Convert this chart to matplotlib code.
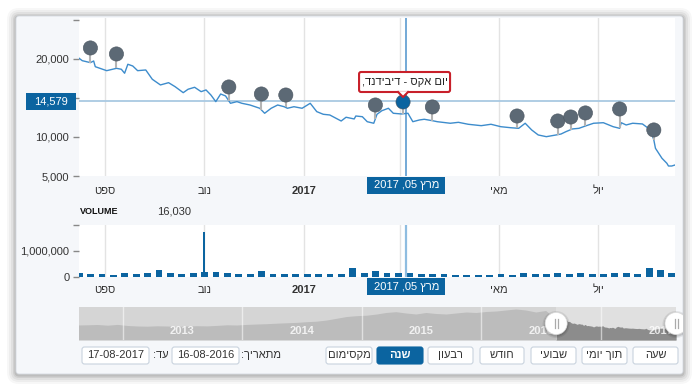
import re
import numpy as np
import pandas as pd
import matplotlib
matplotlib.use('Agg')
import matplotlib.pyplot as plt
import matplotlib.dates as mdates
from matplotlib.patches import FancyBboxPatch, Rectangle, Polygon, Circle

plt.rcParams['font.family'] = ['Liberation Sans', 'DejaVu Sans']

# ---- data ----
price_dates = ['2016-08-16', '2016-08-18', '2016-08-23', '2016-08-25', '2016-08-26', '2016-09-02',
               '2016-09-08', '2016-09-11', '2016-09-13', '2016-09-15', '2016-09-18', '2016-09-21',
               '2016-09-26', '2016-09-30', '2016-10-05', '2016-10-10', '2016-10-14', '2016-10-19',
               '2016-10-22', '2016-10-26', '2016-10-30', '2016-11-02', '2016-11-05', '2016-11-08',
               '2016-11-11', '2016-11-14', '2016-11-17', '2016-11-21', '2016-11-24', '2016-11-29',
               '2016-12-05', '2016-12-08', '2016-12-12', '2016-12-16', '2016-12-20', '2016-12-22',
               '2016-12-26', '2016-12-31', '2017-01-05', '2017-01-09', '2017-01-13', '2017-01-17',
               '2017-01-24', '2017-01-27', '2017-02-01', '2017-02-02', '2017-02-06', '2017-02-09',
               '2017-02-13', '2017-02-15', '2017-02-18', '2017-02-22', '2017-02-25', '2017-03-02',
               '2017-03-06', '2017-03-09', '2017-03-13', '2017-03-16', '2017-03-21', '2017-03-24',
               '2017-04-01', '2017-04-06', '2017-04-12', '2017-04-20', '2017-04-26', '2017-05-02',
               '2017-05-08', '2017-05-13', '2017-05-17', '2017-05-21', '2017-05-25', '2017-05-30',
               '2017-06-05', '2017-06-08', '2017-06-11', '2017-06-15', '2017-06-19', '2017-06-23',
               '2017-06-28', '2017-07-04', '2017-07-10', '2017-07-14', '2017-07-15', '2017-07-18',
               '2017-07-22', '2017-07-28', '2017-08-02', '2017-08-04', '2017-08-05', '2017-08-09',
               '2017-08-12', '2017-08-13', '2017-08-15', '2017-08-17']
price_vals = [20100, 19780, 19530, 19740, 19010, 18500,
              18800, 18680, 18170, 19320, 19100, 18500,
              18590, 17400, 16670, 16960, 16450, 15680,
              16120, 16370, 15810, 16030, 15380, 14530,
              15510, 15260, 14320, 14530, 14320, 14100,
              13680, 13040, 13680, 14100, 13880, 13680,
              13880, 13680, 14320, 13250, 12910, 12820,
              12050, 12530, 12310, 12690, 12600, 11960,
              11760, 12910, 13370, 13680, 13040, 12950,
              13040, 11960, 12180, 12270, 12090, 11960,
              11760, 11880, 11630, 11450, 11630, 11320,
              11190, 11110, 11760, 10900, 10260, 10040,
              10260, 10380, 10680, 11030, 11110, 11410,
              11760, 11830, 11320, 11110, 11830, 11540,
              11760, 11670, 10900, 9620, 8550, 7270,
              6630, 6280, 6280, 6410]

flag_dates = ['2016-08-23', '2016-09-08', '2016-11-16', '2016-12-06', '2016-12-21', '2017-02-14',
              '2017-03-03', '2017-03-21', '2017-05-12', '2017-06-06', '2017-06-14', '2017-06-23',
              '2017-07-14', '2017-08-04']
flag_vals = [21410, 20640, 16410, 15510, 15380, 14100,
             14490, 13850, 12690, 12050, 12560, 13080,
             13590, 10900]
flag_active = 6

# weekly volume blocks (Sunday starts) and the single spike day
vol_week_start = '2016-08-14'
vol_weekly = [150e3, 100e3, 120e3, 90e3, 170e3, 120e3, 170e3, 280e3, 170e3, 130e3,
              170e3, 200e3, 200e3, 170e3, 120e3, 120e3, 230e3, 110e3, 100e3, 100e3,
              100e3, 100e3, 110e3, 100e3, 330e3, 170e3, 220e3, 170e3, 170e3, 150e3,
              130e3, 130e3, 100e3, 80e3, 60e3, 70e3, 80e3, 100e3, 90e3, 170e3,
              100e3, 130e3, 170e3, 120e3, 170e3, 130e3, 100e3, 170e3, 150e3, 130e3,
              340e3, 260e3, 160e3]
spike_dates = ['2016-11-01']
spike_vals = [1750e3]

nav_dates = ['2012-08-15', '2012-09-15', '2012-10-15', '2012-11-15', '2012-12-15',
             '2013-01-15', '2013-02-15', '2013-03-15', '2013-04-15', '2013-05-15', '2013-06-15',
             '2013-07-15', '2013-08-15', '2013-09-15', '2013-10-15', '2013-11-15', '2013-12-15',
             '2014-01-15', '2014-02-15', '2014-03-15', '2014-04-15', '2014-05-15', '2014-06-15',
             '2014-07-15', '2014-08-15', '2014-09-15', '2014-10-15', '2014-11-15', '2014-12-15',
             '2015-01-15', '2015-02-15', '2015-03-15', '2015-04-15', '2015-05-15', '2015-06-15',
             '2015-07-15', '2015-08-15', '2015-09-15', '2015-10-15', '2015-11-15', '2015-12-15',
             '2016-01-15', '2016-02-15', '2016-03-15', '2016-04-15', '2016-05-15', '2016-06-15',
             '2016-07-15', '2016-08-05']
nav_vals = [15000, 15200, 15500, 14800, 15600,
            14500, 14000, 13800, 14200, 14000, 13600,
            14000, 14300, 14100, 14600, 15200, 15000,
            15600, 16000, 16300, 16800, 17200, 17600,
            18300, 18800, 20000, 21700, 23500, 24300,
            24800, 26000, 27500, 28300, 27000, 26000,
            27500, 26500, 26000, 27000, 28000, 27500,
            28500, 29000, 30000, 31000, 30000, 28000,
            29500, 24000]

grid_dates = ['2016-09-01', '2016-11-01', '2017-01-01', '2017-03-01', '2017-05-01', '2017-07-01']
# the March label sits under the crosshair date box, so it shows blank
grid_labels = ['ספט', 'נוב', '2017', '', 'מאי', 'יול']
nav_years = [2013, 2014, 2015, 2016, 2017]

cross_date = '2017-03-05'
cross_value = 14579
cross_date_label = 'מרץ 05, 2017'
tooltip_text = 'יום אקס - דיבידנד,'
volume_value = '16,030'
date_from = '16-08-2016'
date_to = '17-08-2017'
buttons = ['שעה', 'תוך יומי', 'שבועי', 'חודש', 'רבעון', 'שנה', 'מקסימום']
active_button = 'שנה'

x_start, x_end = '2016-08-16', '2017-08-17'
nav_start, nav_end = '2012-08-20', '2017-08-17'


def vis(s):
    # matplotlib has no bidi: flip Hebrew for display, keep digit runs readable
    r = s[::-1]
    return re.sub(r'[0-9A-Za-z]+', lambda m: m.group(0)[::-1], r)


W, H = 700, 391
BLUE = '#0b64a0'
TXT = '#333333'


def box(x0, y0, x1, y1):
    return [x0 / W, 1 - y1 / H, (x1 - x0) / W, (y1 - y0) / H]


def todate(lst):
    return pd.to_datetime(lst)


fig = plt.figure(figsize=(7, 3.91), dpi=100)
fig.patch.set_facecolor('white')

# card with soft shadow
bg = fig.add_axes([0, 0, 1, 1], zorder=-10)
bg.set_xlim(0, W)
bg.set_ylim(H, 0)
bg.axis('off')
for g, a in [(9, 0.03), (7, 0.04), (5, 0.05), (3, 0.07), (1.5, 0.09)]:
    bg.add_patch(FancyBboxPatch((16 - g, 16 - g + 1), 667 + 2 * g, 358 + 2 * g,
                                boxstyle=f"round,pad=0,rounding_size={3 + g}",
                                fc='black', ec='none', alpha=a))
bg.add_patch(FancyBboxPatch((16, 16), 667, 358, boxstyle="round,pad=0,rounding_size=3",
                            fc='#f5f7fa', ec='#d5dae0', lw=0.6))

pdates = todate(price_dates)
fdates = todate(flag_dates)
gdates = todate(grid_dates)
xlim = (todate([x_start])[0], todate([x_end])[0])

# ---- main price panel ----
ax = fig.add_axes(box(79, 18, 675, 176))
ax.set_facecolor('white')
ax.plot(pdates, price_vals, color='#3d8ccc', lw=1.0, zorder=3)
ax.set_xlim(*xlim)
ax.set_ylim(5000, 25250)
ax.set_yticks([5000, 10000, 15000, 20000, 25000])
ax.set_yticklabels(['5,000', '10,000', '', '20,000', ''])
ax.set_xticks(gdates)
ax.set_xticklabels([vis(s) for s in grid_labels])
ax.grid(axis='x', color='#e3e3e3', lw=1)
ax.tick_params(axis='x', length=0, pad=7, labelsize=8, labelcolor=TXT)
ax.tick_params(axis='y', length=4, width=1, color='#888888', pad=3, labelsize=8, labelcolor=TXT)
for lbl in ax.get_xticklabels():
    if lbl.get_text() == '2017':
        lbl.set_fontweight('bold')
for sp in ax.spines.values():
    sp.set_visible(False)

cross_x = mdates.date2num(todate([cross_date])[0])
ax.axhline(cross_value, color='#a9c9e2', lw=1.3, zorder=2)
ax.axvline(cross_x, color='#5b9bd0', lw=1.2, zorder=2)

fnum = mdates.date2num(fdates)
pnum = mdates.date2num(pdates)
stem_base = np.interp(fnum, pnum, price_vals)
ax.vlines(fdates, stem_base, flag_vals, color='#b4b4b4', lw=1.5, zorder=4)
fcol = ['#5c6975'] * len(flag_vals)
fcol[flag_active] = BLUE
ax.scatter(fdates, flag_vals, s=105, c=fcol, edgecolors='#4a5560', linewidths=0.4, zorder=5)

# ---- volume panel ----
vax = fig.add_axes(box(79, 225, 675, 277))
vax.set_facecolor('white')
wk = pd.date_range(vol_week_start, periods=len(vol_weekly), freq='7D')
vax.bar(wk, vol_weekly, width=4.2, align='edge', color=BLUE, zorder=3)
vax.bar(todate(spike_dates), spike_vals, width=1.2, color=BLUE, zorder=3)
vax.set_xlim(*xlim)
vax.set_ylim(0, 2000000)
vax.set_yticks([0, 1000000, 2000000])
vax.set_yticklabels(['0', '1,000,000', ''])
vax.set_xticks(gdates)
vax.set_xticklabels([vis(s) for s in grid_labels])
vax.grid(axis='x', color='#e3e3e3', lw=1)
vax.tick_params(axis='x', length=0, pad=6, labelsize=8, labelcolor=TXT)
vax.tick_params(axis='y', length=4, width=1, color='#888888', pad=3, labelsize=8, labelcolor=TXT)
for lbl in vax.get_xticklabels():
    if lbl.get_text() == '2017':
        lbl.set_fontweight('bold')
for sp in vax.spines.values():
    sp.set_visible(False)
vax.axvline(cross_x, color='#8fbde0', lw=1.6, zorder=4)

# ---- navigator ----
nav = fig.add_axes(box(79, 307, 676, 340))
nlim = (todate([nav_start])[0], todate([nav_end])[0])
nd = list(todate(nav_dates)) + list(pdates)
nv = list(nav_vals) + list(price_vals)
nav.set_facecolor('#d5d5d5')
nav.fill_between(nd, 0, nv, color='#bcbcbc', lw=0, zorder=1)
nav.axvspan(xlim[0], xlim[1], color='#e0e0e0', lw=0, zorder=1.5)
nav.fill_between(pdates, 0, price_vals, color='#8c8c8c', lw=0, zorder=2)
for yr in nav_years:
    d0 = pd.Timestamp(f'{yr}-01-01')
    nav.axvline(d0, color='white', lw=1, alpha=0.55, zorder=3)
    nav.text(d0 + pd.Timedelta(days=182), 3500, str(yr), ha='center', va='bottom',
             color='white', alpha=0.8, fontsize=8, fontweight='bold', zorder=4, clip_on=True)
nav.set_xlim(*nlim)
nav.set_ylim(0, 33000)
nav.set_xticks([])
nav.set_yticks([])
for sp in nav.spines.values():
    sp.set_visible(False)

# ---- overlay (pixel coords) ----
ov = fig.add_axes([0, 0, 1, 1], zorder=20)
ov.set_xlim(0, W)
ov.set_ylim(H, 0)
ov.axis('off')


def to_px(a, x, y):
    dx, dy = a.transData.transform((x, y))
    return dx, H - dy


# horizontal crosshair label
_, hy = to_px(ax, cross_x, cross_value)
ov.add_patch(Rectangle((26, hy - 8.5), 50, 17, fc=BLUE, ec='none'))
ov.text(51, hy, f'{cross_value:,}', color='white', fontsize=8, ha='center', va='center')

# vertical crosshair labels
cx, _ = to_px(ax, cross_x, 5000)
for top in (177, 278):
    ov.add_patch(Rectangle((cx - 39, top), 78, 17, fc=BLUE, ec='none'))
    ov.text(cx, top + 8.5, vis(cross_date_label), color='white', fontsize=8, ha='center', va='center')

# tooltip over the active flag
fx, fy = to_px(ax, fnum[flag_active], flag_vals[flag_active])
tb_l, tb_r, tb_t, tb_b = fx - 44, fx + 47, 72, 92
ov.add_patch(FancyBboxPatch((tb_l, tb_t), tb_r - tb_l, tb_b - tb_t,
                            boxstyle="round,pad=0,rounding_size=2",
                            fc='white', ec='#c8202a', lw=1.5))
ov.add_patch(Polygon([(fx - 5, tb_b - 0.8), (fx + 5, tb_b - 0.8), (fx, tb_b + 5)],
                     closed=True, fc='white', ec='none'))
ov.plot([fx - 5, fx, fx + 5], [tb_b, tb_b + 5, tb_b], color='#c8202a', lw=1.5)
ov.text((tb_l + tb_r) / 2, (tb_t + tb_b) / 2, vis(tooltip_text), fontsize=8, color='#222222',
        ha='center', va='center')

# volume header
ov.text(80, 211, 'VOLUME', fontsize=6.5, fontweight='bold', color='#111111', va='center')
ov.text(157, 211, volume_value, fontsize=8, color=TXT, va='center')

# navigator handles
clip = Rectangle((16, 16), 667, 358, transform=ov.transData)
for d in xlim:
    hx, _ = to_px(nav, mdates.date2num(d), 0)
    for g, a in [(2.5, 0.08), (1.2, 0.12)]:
        c = Circle((hx, 324.5), 11 + g, fc='black', alpha=a, ec='none')
        ov.add_patch(c)
        c.set_clip_path(clip)
    c = Circle((hx, 323.5), 11, fc='white', ec='#dddddd', lw=0.5)
    ov.add_patch(c)
    c.set_clip_path(clip)
    for off in (-1.5, 1.5):
        ln, = ov.plot([hx + off, hx + off], [319, 328], color='#aaaaaa', lw=0.9)
        ln.set_clip_path(clip)

# range buttons
btn_x = [633, 582, 531, 480, 428, 377, 326]
btn_w = [45, 45, 45, 44, 45, 46, 46]
for lbl, x0, w in zip(buttons, btn_x, btn_w):
    act = lbl == active_button
    ov.add_patch(FancyBboxPatch((x0, 347), w, 17, boxstyle="round,pad=0,rounding_size=2.5",
                                fc=BLUE if act else 'white', ec=BLUE if act else '#c9d3de', lw=0.8))
    ov.text(x0 + w / 2, 355.5, vis(lbl), fontsize=8, ha='center', va='center',
            color='white' if act else TXT, fontweight='bold' if act else 'normal')

# date inputs
for x0, txt in [(82, date_to), (172, date_from)]:
    ov.add_patch(FancyBboxPatch((x0, 347), 67, 17, boxstyle="round,pad=0,rounding_size=2.5",
                                fc='white', ec='#c9d3de', lw=0.8))
    ov.text(x0 + 33.5, 355.5, txt, fontsize=8, ha='center', va='center', color=TXT)
ov.text(168, 355.5, vis('עד:'), fontsize=8, ha='right', va='center', color=TXT)
ov.text(281, 355.5, vis('מתאריך:'), fontsize=8, ha='right', va='center', color=TXT)

fig.savefig('out.png', dpi=100)
